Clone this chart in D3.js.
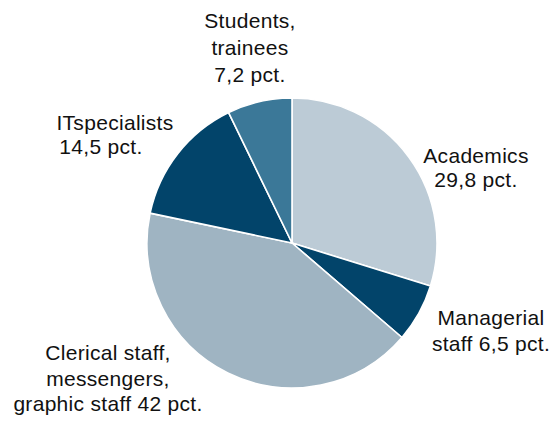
<!DOCTYPE html>
<html>
<head>
<meta charset="utf-8">
<script src="https://cdn.jsdelivr.net/npm/d3@7"></script>
<style>
  html, body { margin: 0; padding: 0; background: #ffffff; }
  svg { display: block; }
  text { font-family: "Liberation Sans", Arial, Helvetica, sans-serif; fill: #111; }
</style>
</head>
<body>
<script>
// Data
const categories = ["Academics", "Managerial staff", "Clerical staff, messengers, graphic staff", "IT specialists", "Students, trainees"];
const values = [29.8, 6.5, 42, 14.5, 7.2];
const colors = ["#bccbd6", "#02446a", "#9fb4c2", "#02446a", "#3b7898"];
const labelLines = [
  ["Academics", "29,8 pct."],
  ["Managerial", "staff 6,5 pct."],
  ["Clerical staff,", "messengers,", "graphic staff 42 pct."],
  ["ITspecialists", "14,5 pct."],
  ["Students,", "trainees", "7,2 pct."]
];

// Layout (positions only)
const W = 553, H = 422;
const cx = 292, cy = 243, R = 145;
const labelPos = [
  {x: 476, y: 162.5, lh: 24},
  {x: 491, y: 325, lh: 26},
  {x: 108, y: 360, lh: 25.5},
  {x: 115, y: 129.5, lh: 24, offs: [0, -14]},
  {x: 250, y: 28, lh: 27}
];

const svg = d3.select("body").append("svg").attr("width", W).attr("height", H);

const pie = d3.pie().sort(null).value(d => d)(values);
const arc = d3.arc().innerRadius(0).outerRadius(R);

const g = svg.append("g").attr("transform", `translate(${cx},${cy})`);
g.selectAll("path")
  .data(pie)
  .join("path")
  .attr("d", arc)
  .attr("fill", (d, i) => colors[i])
  .attr("stroke", "#ffffff")
  .attr("stroke-width", 1.6)
  .attr("stroke-linejoin", "round");

labelLines.forEach((lines, i) => {
  const p = labelPos[i];
  const t = svg.append("text")
    .attr("text-anchor", "middle")
    .style("font-size", "21px")
    .style("letter-spacing", "0.3px");
  lines.forEach((line, j) => {
    t.append("tspan")
      .attr("x", p.x + (p.offs ? p.offs[j] : 0))
      .attr("y", p.y + j * p.lh)
      .text(line);
  });
});
</script>
</body>
</html>
